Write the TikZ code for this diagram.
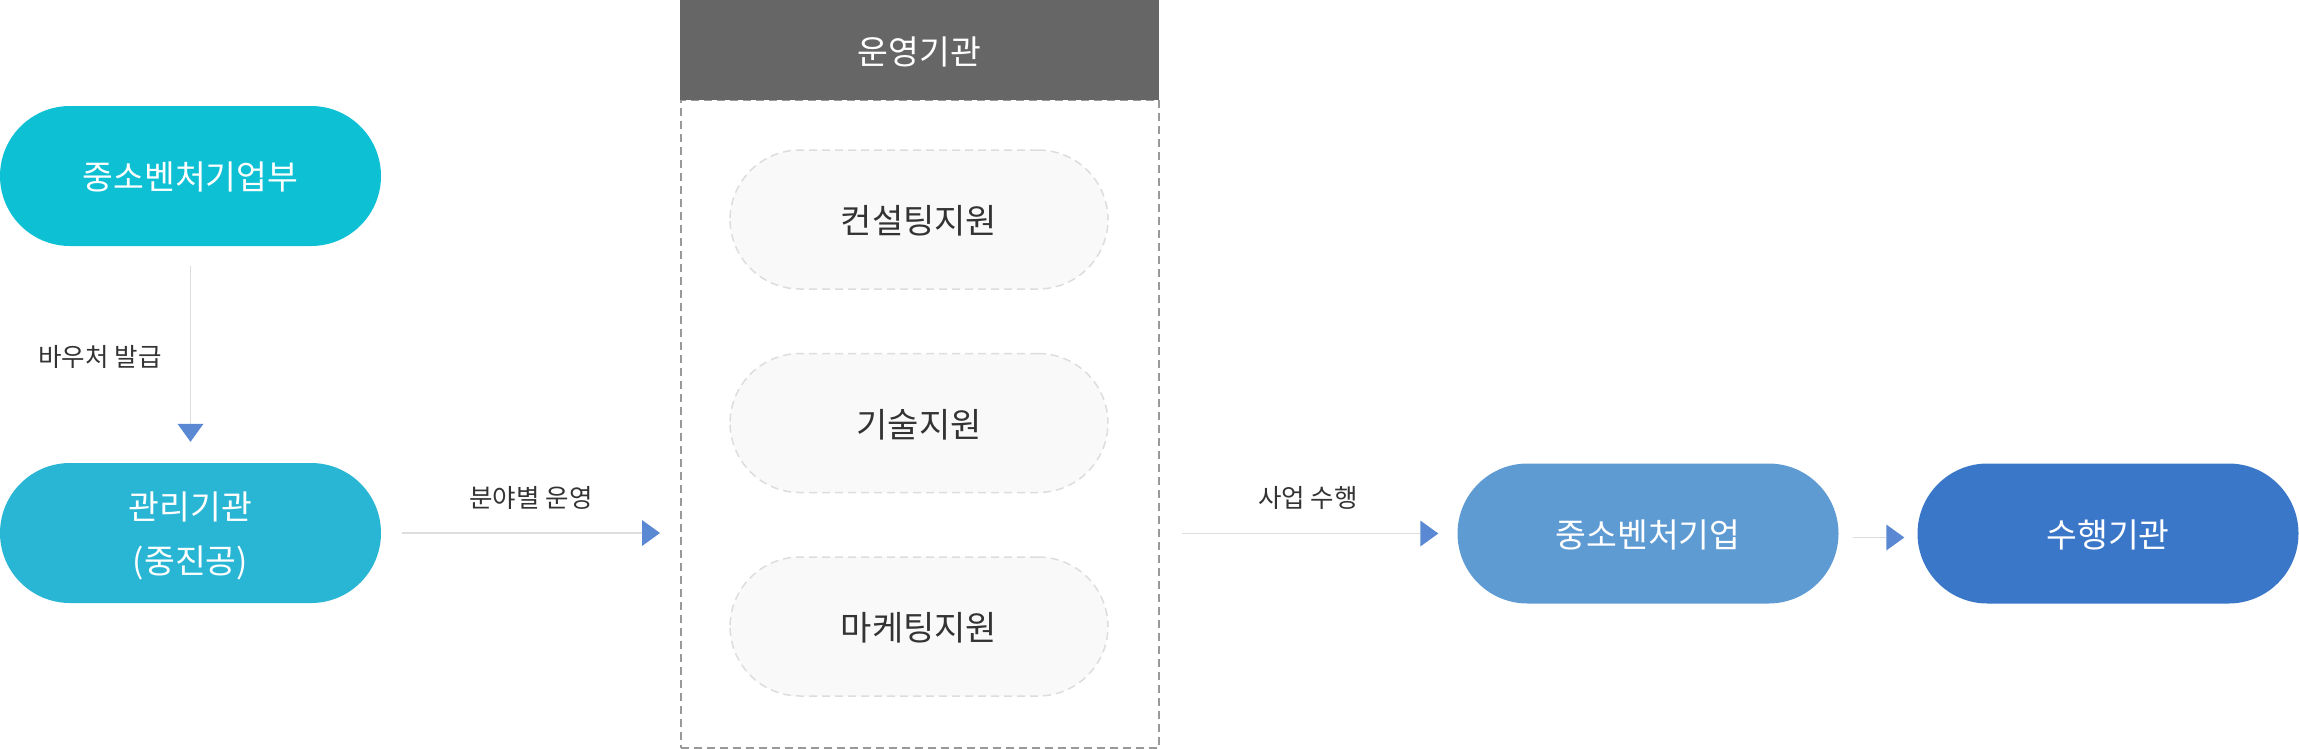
\documentclass[tikz,border=0pt]{standalone}
\usepackage{fontspec}
\setmainfont{Noto Sans CJK KR}
\usetikzlibrary{arrows.meta}

\definecolor{mssCyan}{HTML}{0DC0D4}
\definecolor{agencyCyan}{HTML}{29B6D4}
\definecolor{firmBlue}{HTML}{5F9BD3}
\definecolor{perfBlue}{HTML}{3B77C9}
\definecolor{headGray}{HTML}{666666}
\definecolor{arrowBlue}{HTML}{5B88D2}
\definecolor{lineGray}{HTML}{DDDDDD}
\definecolor{txtGray}{HTML}{333333}

\begin{document}
\begin{tikzpicture}[x=1pt,y=-1pt,
  pill/.style={rounded corners=70pt, minimum width=381pt, minimum height=140pt,
    inner sep=0pt, text=white, align=center, text depth=-5.5pt,
    font=\fontsize{33.5}{54}\selectfont},
  subpill/.style={pill, minimum width=378pt, minimum height=139pt, fill=black!2.5,
    draw=lineGray, line width=1.5pt, dash pattern=on 8pt off 5pt, text=txtGray,
    font=\fontsize{34}{40}\selectfont},
  conn/.style={draw=lineGray, line width=1.5pt,
    -{Triangle[length=18pt,width=26pt,color=arrowBlue,line width=0pt]}},
  lbl/.style={text=txtGray, font=\fontsize{25.5}{30}\selectfont}]
\useasboundingbox (0,0) rectangle (2299,748);

% left column
\node[pill, fill=mssCyan] (mss) at (190.5,176) {중소벤처기업부};
\node[pill, fill=agencyCyan] (agency) at (190.5,533) {관리기관\\(중진공)};

% operating agencies
\node[draw=black!40, line width=1.5pt, dash pattern=on 8pt off 5pt,
  minimum width=478pt, minimum height=648pt, anchor=north west] (opBox) at (680,99) {};
\node[fill=headGray, text=white, font=\fontsize{33.5}{40}\selectfont, inner sep=0pt,
  text depth=-4.5pt, minimum width=479pt, minimum height=100pt, anchor=north west]
  (opHead) at (679.5,0) {운영기관};
\node[subpill] (consult) at (919,219.5) {컨설팅지원};
\node[subpill] (tech) at (919,423) {기술지원};
\node[subpill] (market) at (919,626.5) {마케팅지원};

% right side
\node[pill, fill=firmBlue] (firm) at (1648,533.5) {중소벤처기업};
\node[pill, fill=perfBlue] (perf) at (2108,533.5) {수행기관};

% connectors
\draw[conn, shorten <=20pt, shorten >=21pt] (mss) -- (agency);
\node[lbl] (lblVoucher) at (100,357) {바우처 발급};
\draw[conn, shorten <=21pt, shorten >=20pt] (agency.east) -- (agency.east -| opBox.west);
\node[lbl] (lblField) at (531,498) {분야별 운영};
\draw[conn, shorten <=22pt, shorten >=19pt] (opBox.east |- firm.west) -- (firm.west);
\node[lbl] (lblBiz) at (1308,498) {사업 수행};
\draw[conn, shorten <=14pt, shorten >=13pt] ([yshift=-4pt]firm.east) -- ([yshift=-4pt]perf.west);

\end{tikzpicture}
\end{document}
